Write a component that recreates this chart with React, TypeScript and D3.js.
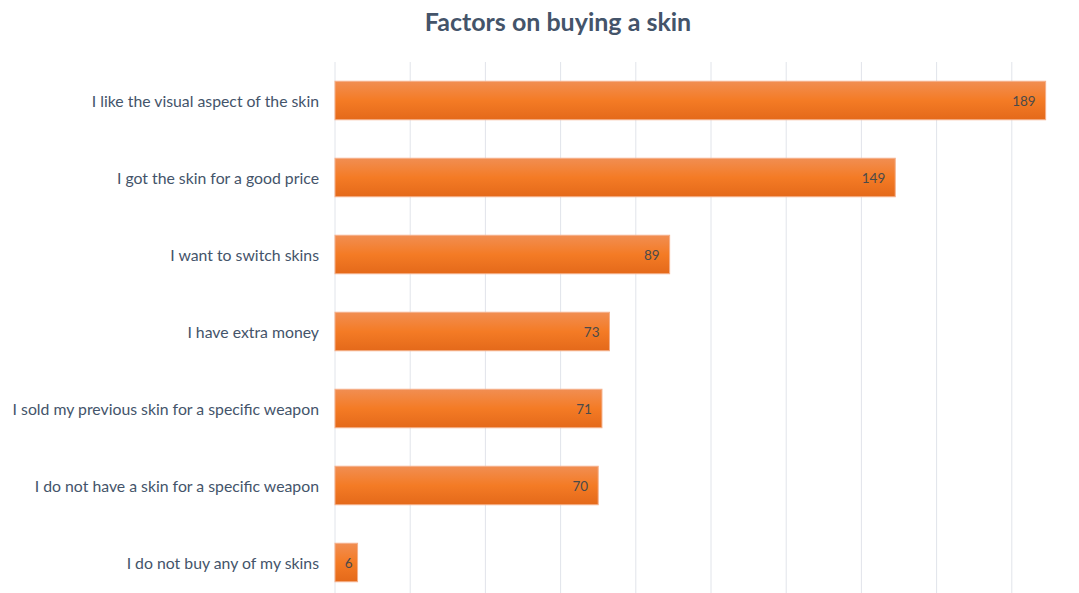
import React from "react";
import * as d3 from "d3";

const categories = [
  "I like the visual aspect of the skin",
  "I got the skin for a good price",
  "I want to switch skins",
  "I have extra money",
  "I sold my previous skin for a specific weapon",
  "I do not have a skin for a specific weapon",
  "I do not buy any of my skins",
];
const values = [189, 149, 89, 73, 71, 70, 6];
const xTicks = [0, 20, 40, 60, 80, 100, 120, 140, 160, 180, 200];

const W = 1079;
const H = 593;

export default function App() {
  const x = d3.scaleLinear().domain([0, 200]).range([335, 1087]);
  const y = d3.scaleBand<string>().domain(categories).range([62, 601]).paddingInner(0.5).paddingOuter(0.25);
  const font = "Lato, 'Open Sans', sans-serif";
  return (
    <svg width={W} height={H} style={{ position: "absolute", left: 0, top: 0 }}>
      <defs>
        <linearGradient id="barGrad" x1="0" y1="0" x2="0" y2="1">
          <stop offset="0%" stopColor="#F18E52" />
          <stop offset="50%" stopColor="#F47B25" />
          <stop offset="100%" stopColor="#E4691A" />
        </linearGradient>
      </defs>
      <rect x={0} y={0} width={W} height={H} fill="#fff" />
      <text x={558} y={31} textAnchor="middle" fontFamily={font} fontWeight={700} fontSize={25} fill="#44546A">
        Factors on buying a skin
      </text>
      {xTicks.map((t) => (
        <line key={t} x1={x(t)} x2={x(t)} y1={62} y2={H} stroke="#E1E4EA" strokeWidth={1} />
      ))}
      {categories.map((c, i) => {
        const by = y(c)!;
        const bh = y.bandwidth();
        const bw = x(values[i]) - x(0);
        const pad = bw < 30 ? 5 : 10;
        return (
          <g key={c}>
            <rect x={x(0)} y={by} width={bw} height={bh} fill="url(#barGrad)" stroke="#F5B08A" strokeWidth={1} />
            <text x={x(values[i]) - pad} y={by + bh / 2 + 1} dy="0.35em" textAnchor="end" fontFamily={font} fontSize={13.5} fill="#4A4A4A">
              {values[i]}
            </text>
            <text x={319} y={by + bh / 2 + 1} dy="0.35em" textAnchor="end" fontFamily={font} fontSize={15.8} fill="#44546A">
              {c}
            </text>
          </g>
        );
      })}
    </svg>
  );
}
